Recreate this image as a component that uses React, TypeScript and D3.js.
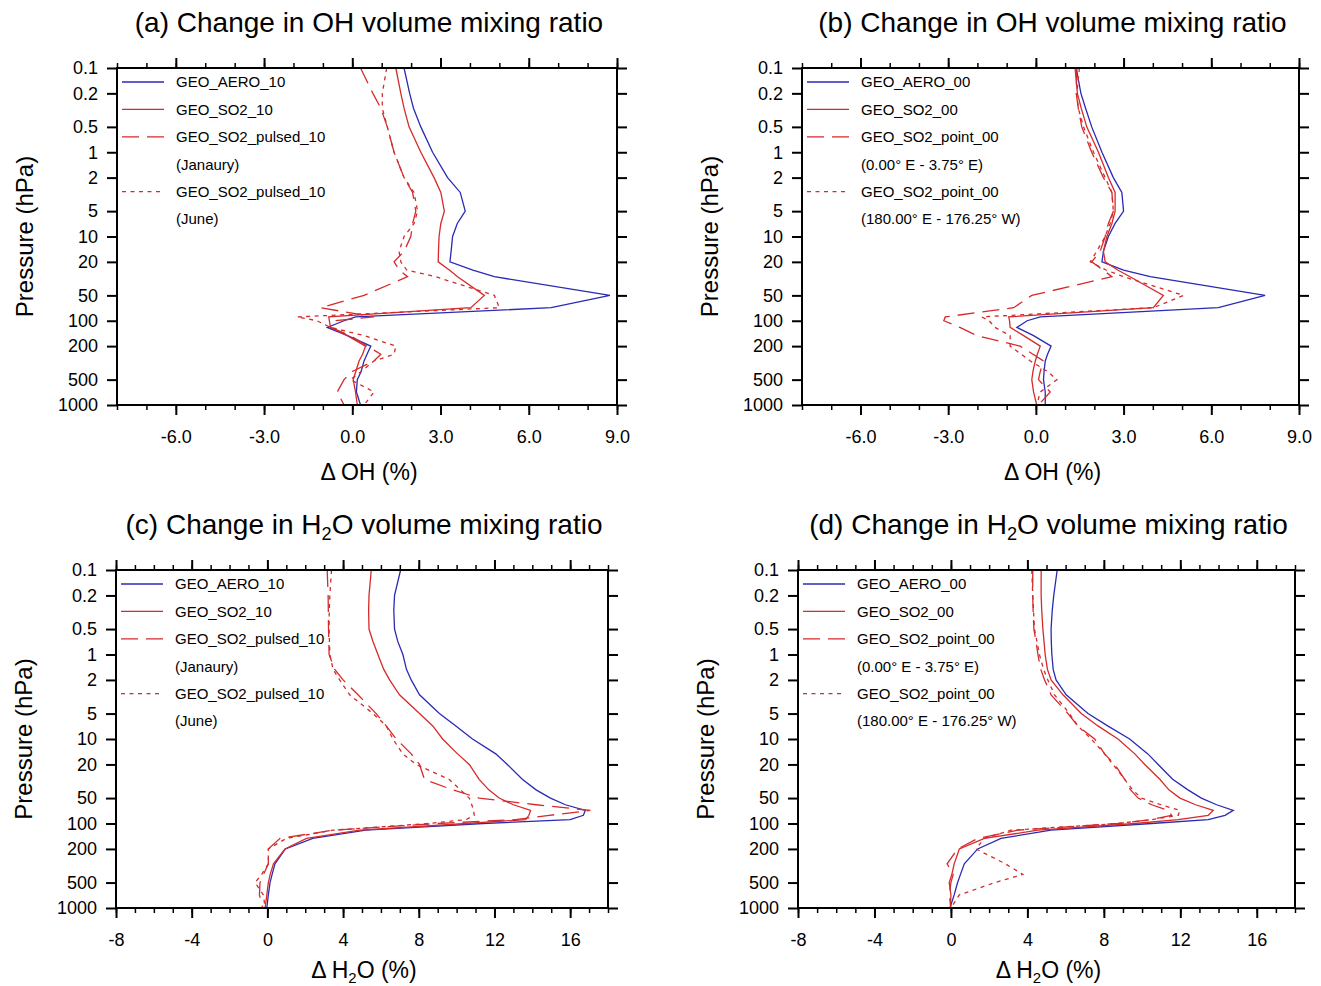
import { useEffect, useRef } from "react";
import * as d3 from "d3";

// pressure levels (hPa) the profiles were read at
const OH_LEVELS = [0.1, 0.2, 0.3, 0.5, 1, 2, 3, 5, 7, 10, 15, 20, 25, 30, 50, 70, 90, 100, 120, 150, 200, 250, 300, 400, 500, 700, 1000];
const H2O_LEVELS = [0.1, 0.2, 0.3, 0.5, 0.7, 1, 1.5, 2, 3, 5, 7, 10, 15, 20, 30, 40, 50, 60, 70, 80, 90, 100, 120, 150, 200, 300, 400, 500, 700, 1000];

const PRESSURE_TICKS = [0.1, 0.2, 0.5, 1, 2, 5, 10, 20, 50, 100, 200, 500, 1000];
const OH_TICKS = [-6, -3, 0, 3, 6, 9];
const OH_MINOR = d3.range(-8, 10, 1);
const H2O_TICKS = [-8, -4, 0, 4, 8, 12, 16];
const H2O_MINOR = d3.range(-8, 19, 1);

// (a) change in OH (%)
const OH_AERO_10 = [1.76, 1.95, 2.08, 2.33, 2.73, 3.24, 3.67, 3.84, 3.57, 3.41, 3.36, 3.32, 4.1, 4.83, 8.76, 6.76, 0.11, -0.28, -0.85, -0.16, 0.63, 0.5, 0.4, 0.3, 0.17, 0.14, 0.28];
const OH_SO2_10 = [1.48, 1.65, 1.76, 1.93, 2.33, 2.78, 3.01, 3.13, 3.01, 2.95, 2.93, 2.92, 3.3, 3.58, 4.49, 4.03, -0.8, -0.78, -0.74, -0.17, 0.45, 0.35, 0.23, 0.12, 0.03, 0.11, 0.17];
const OH_PULSED_JAN = [0.28, 0.7, 0.97, 1.19, 1.42, 1.76, 2.05, 2.16, 2.05, 1.99, 1.76, 1.42, 1.6, 1.88, 0.4, -1.08, 0.74, -0.6, -0.74, -0.06, 0.51, 0.97, 0.74, 0.0, -0.28, -0.51, -0.28];
const OH_PULSED_JUN = [1.17, 1.02, 1.02, 1.19, 1.42, 1.76, 2.1, 2.22, 2.1, 1.76, 1.59, 1.65, 1.85, 2.83, 4.83, 5.0, -1.88, -1.2, -0.74, 0.4, 1.48, 1.42, 0.74, 0.3, -0.06, 0.74, 0.4];

// (b) change in OH (%)
const OH_AERO_00 = [1.38, 1.54, 1.7, 1.91, 2.26, 2.65, 2.94, 3.0, 2.71, 2.48, 2.31, 2.26, 3.0, 3.91, 7.84, 6.24, 0.15, -0.3, -0.65, -0.08, 0.52, 0.4, 0.32, 0.28, 0.26, 0.32, 0.32];
const OH_SO2_00 = [1.34, 1.42, 1.55, 1.74, 2.14, 2.48, 2.71, 2.71, 2.6, 2.43, 2.31, 2.37, 2.8, 3.22, 4.36, 4.02, -0.93, -0.9, -0.88, -0.42, 0.15, 0.05, -0.02, -0.1, -0.14, -0.08, 0.03];
const OH_POINT_0E = [1.4, 1.38, 1.45, 1.57, 1.91, 2.31, 2.6, 2.65, 2.48, 2.37, 2.2, 1.91, 2.3, 2.6, -0.14, -0.76, -3.1, -3.15, -2.6, -2.02, -0.54, -0.1, 0.26, 0.15, 0.09, 0.49, 0.09];
const OH_POINT_180E = [1.49, 1.4, 1.45, 1.63, 1.97, 2.37, 2.6, 2.65, 2.54, 2.37, 2.08, 1.86, 2.4, 3.0, 5.05, 4.02, -1.85, -1.6, -1.4, -0.88, -0.88, -0.5, -0.19, 0.4, 0.72, 0.15, 0.03];

// (c) change in H2O (%)
const H2O_AERO_10 = [7.04, 6.72, 6.68, 6.72, 6.89, 7.16, 7.35, 7.6, 8.04, 9.09, 9.96, 10.84, 12.07, 12.68, 13.47, 14.2, 14.96, 15.75, 16.8, 16.7, 16.0, 11.4, 5.2, 2.4, 0.95, 0.4, 0.25, 0.14, 0.05, -0.03];
const H2O_SO2_10 = [5.49, 5.37, 5.35, 5.37, 5.58, 5.84, 6.15, 6.46, 6.98, 8.04, 8.74, 9.26, 10.05, 10.67, 11.19, 11.7, 12.25, 13.0, 13.91, 13.82, 13.65, 10.5, 4.88, 2.07, 0.93, 0.32, 0.15, 0.05, -0.03, -0.12];
const H2O_PULSED_JAN = [3.16, 3.21, 3.22, 3.23, 3.25, 3.26, 3.56, 4.0, 4.79, 5.75, 6.28, 6.81, 7.6, 8.04, 8.3, 9.79, 11.19, 14.2, 17.07, 14.9, 13.1, 9.0, 3.47, 0.67, 0.05, 0.05, -0.2, -0.39, -0.42, -0.25];
const H2O_PULSED_JUN = [3.39, 3.3, 3.27, 3.26, 3.28, 3.3, 3.47, 3.82, 4.35, 5.58, 6.28, 6.63, 7.16, 7.86, 9.6, 10.2, 10.67, 10.8, 10.9, 10.93, 10.5, 8.5, 3.47, 1.0, 0.05, 0.05, -0.3, -0.65, -0.21, -0.12];

// (d) change in H2O (%)
const H2O_AERO_00 = [5.56, 5.38, 5.3, 5.24, 5.25, 5.28, 5.35, 5.5, 6.03, 7.17, 8.2, 9.35, 10.3, 10.84, 11.6, 12.4, 13.1, 13.9, 14.77, 14.34, 13.46, 10.49, 5.24, 2.62, 1.4, 0.7, 0.5, 0.35, 0.17, -0.05];
const H2O_SO2_00 = [4.72, 4.72, 4.75, 4.81, 4.87, 4.93, 5.05, 5.24, 5.86, 6.82, 7.69, 8.74, 9.62, 10.14, 10.93, 11.4, 11.98, 12.8, 13.72, 13.46, 11.89, 9.62, 4.55, 1.75, 0.44, 0.17, 0.05, -0.09, 0, -0.03];
const H2O_POINT_0E = [4.28, 4.28, 4.3, 4.34, 4.45, 4.55, 4.7, 4.9, 5.24, 6.12, 6.64, 7.52, 8.04, 8.57, 9.09, 9.4, 9.79, 10.5, 11.36, 11.54, 10.49, 8.74, 3.5, 1.4, 0.35, -0.2, 0.12, 0.0, -0.09, 0];
const H2O_POINT_180E = [4.23, 4.28, 4.32, 4.37, 4.5, 4.63, 4.85, 5.07, 5.42, 6.2, 6.64, 7.34, 8.04, 8.48, 9.09, 9.5, 9.96, 11.0, 11.98, 11.89, 10.49, 8.74, 3.15, 1.75, 1.31, 2.85, 3.76, 2.3, 0.44, 0];

const LEGEND_10 = ["GEO_AERO_10", "GEO_SO2_10", "GEO_SO2_pulsed_10", "(Janaury)", "GEO_SO2_pulsed_10", "(June)"];
const LEGEND_00 = ["GEO_AERO_00", "GEO_SO2_00", "GEO_SO2_point_00", "(0.00\u00b0 E - 3.75\u00b0 E)", "GEO_SO2_point_00", "(180.00\u00b0 E - 176.25\u00b0 W)"];

const BLUE = "#2a2ab4";
const RED = "#d62a2a";
const FONT = "'Liberation Sans', Arial, Helvetica, sans-serif";
// line style per legend row (null = text continuation, no line)
const ROW_STYLE = [
  { color: BLUE, dash: null },
  { color: RED, dash: null },
  { color: RED, dash: "17,8" },
  null,
  { color: RED, dash: "4,4.5" },
  null,
];

// plain hyphen minus, as in the original figure
const hyphen = (f) => (d) => f(d).replace("\u2212", "-");

const panels = [
  {
    key: "a", left: 117, top: 68, width: 500, height: 337, sub: false, labelGap: 75,
    xDomain: [-8, 9], major: OH_TICKS, minor: OH_MINOR, fmt: hyphen(d3.format(".1f")),
    levels: OH_LEVELS, series: [OH_AERO_10, OH_SO2_10, OH_PULSED_JAN, OH_PULSED_JUN], legend: LEGEND_10,
  },
  {
    key: "b", left: 802, top: 68, width: 497, height: 337, sub: false, labelGap: 75,
    xDomain: [-8, 9], major: OH_TICKS, minor: OH_MINOR, fmt: hyphen(d3.format(".1f")),
    levels: OH_LEVELS, series: [OH_AERO_00, OH_SO2_00, OH_POINT_0E, OH_POINT_180E], legend: LEGEND_00,
  },
  {
    key: "c", left: 116, top: 570, width: 492, height: 338, sub: true, labelGap: 70,
    xDomain: [-8, 18], major: H2O_TICKS, minor: H2O_MINOR, fmt: hyphen(d3.format("d")),
    levels: H2O_LEVELS, series: [H2O_AERO_10, H2O_SO2_10, H2O_PULSED_JAN, H2O_PULSED_JUN], legend: LEGEND_10,
  },
  {
    key: "d", left: 798, top: 570, width: 497, height: 338, sub: true, labelGap: 70,
    xDomain: [-8, 18], major: H2O_TICKS, minor: H2O_MINOR, fmt: hyphen(d3.format("d")),
    levels: H2O_LEVELS, series: [H2O_AERO_00, H2O_SO2_00, H2O_POINT_0E, H2O_POINT_180E], legend: LEGEND_00,
  },
];

const SERIES_STYLE = [ROW_STYLE[0], ROW_STYLE[1], ROW_STYLE[2], ROW_STYLE[4]];

// writes "OH" or "H2O" (subscript 2) between a prefix and a suffix
const writeSpecies = (text, prefix, sub, suffix, size) => {
  if (!sub) {
    text.text(prefix + "OH" + suffix);
    return;
  }
  text.append("tspan").text(prefix + "H");
  text.append("tspan").attr("font-size", size * 0.65).attr("dy", size * 0.22).text("2");
  text.append("tspan").attr("dy", -size * 0.22).text("O" + suffix);
};

const Panel = ({ cfg }) => {
  const ref = useRef(null);

  useEffect(() => {
    const g = d3.select(ref.current);
    g.selectAll("*").remove();
    const { width, height } = cfg;

    const x = d3.scaleLinear().domain(cfg.xDomain).range([0, width]);
    const y = d3.scaleLog().domain([0.1, 1000]).range([0, height]);

    // profiles
    const line = d3.line()
      .x((d) => x(d[1]))
      .y((d) => y(d[0]));

    cfg.series.forEach((vals, i) => {
      const st = SERIES_STYLE[i];
      g.append("path")
        .datum(cfg.levels.map((p, j) => [p, vals[j]]))
        .attr("fill", "none")
        .attr("stroke", st.color)
        .attr("stroke-width", 1.3)
        .attr("stroke-dasharray", st.dash)
        .attr("d", line);
    });

    // axes, NCL style with outward ticks on every side
    const styleAxis = (sel, w) => {
      sel.select(".domain").remove();
      sel.selectAll(".tick line").attr("stroke", "#000").attr("stroke-width", w);
      sel.selectAll(".tick text").attr("fill", "#000").attr("font-size", 18).attr("font-family", FONT);
      sel.attr("font-family", FONT).attr("font-size", 18);
    };

    g.append("g").attr("transform", `translate(0,${height})`)
      .call(d3.axisBottom(x).tickValues(cfg.minor).tickSize(5).tickSizeOuter(0).tickFormat(() => ""))
      .call((s) => styleAxis(s, 1.5));
    g.append("g").attr("transform", `translate(0,${height})`)
      .call(d3.axisBottom(x).tickValues(cfg.major).tickSize(10).tickSizeOuter(0).tickPadding(15).tickFormat(cfg.fmt))
      .call((s) => styleAxis(s, 2));
    g.append("g")
      .call(d3.axisTop(x).tickValues(cfg.minor).tickSize(5).tickSizeOuter(0).tickFormat(() => ""))
      .call((s) => styleAxis(s, 1.5));
    g.append("g")
      .call(d3.axisTop(x).tickValues(cfg.major).tickSize(10).tickSizeOuter(0).tickFormat(() => ""))
      .call((s) => styleAxis(s, 2));
    g.append("g")
      .call(d3.axisLeft(y).tickValues(PRESSURE_TICKS).tickSize(10).tickSizeOuter(0).tickPadding(9).tickFormat((d) => String(d)))
      .call((s) => styleAxis(s, 2));
    g.append("g").attr("transform", `translate(${width},0)`)
      .call(d3.axisRight(y).tickValues(PRESSURE_TICKS).tickSize(10).tickSizeOuter(0).tickFormat(() => ""))
      .call((s) => styleAxis(s, 2));

    g.append("rect")
      .attr("width", width)
      .attr("height", height)
      .attr("fill", "none")
      .attr("stroke", "#000")
      .attr("stroke-width", 2);

    // legend
    cfg.legend.forEach((label, i) => {
      const ly = 14 + i * 27.4;
      const st = ROW_STYLE[i];
      if (st) {
        g.append("line")
          .attr("x1", 5).attr("x2", 47)
          .attr("y1", ly).attr("y2", ly)
          .attr("stroke", st.color)
          .attr("stroke-width", 1.3)
          .attr("stroke-dasharray", st.dash);
      }
      g.append("text")
        .attr("x", 59).attr("y", ly).attr("dy", "0.36em")
        .attr("font-family", FONT).attr("font-size", 15)
        .text(label);
    });

    // titles and labels
    const title = g.append("text")
      .attr("x", width / 2 + 2).attr("y", -36)
      .attr("text-anchor", "middle")
      .attr("font-family", FONT).attr("font-size", 28);
    writeSpecies(title, `(${cfg.key}) Change in `, cfg.sub, " volume mixing ratio", 28);

    const xl = g.append("text")
      .attr("x", width / 2 + 2).attr("y", height + cfg.labelGap)
      .attr("text-anchor", "middle")
      .attr("font-family", FONT).attr("font-size", 23);
    writeSpecies(xl, "\u0394 ", cfg.sub, " (%)", 23);

    g.append("text")
      .attr("transform", `translate(-84,${height / 2}) rotate(-90)`)
      .attr("text-anchor", "middle")
      .attr("font-family", FONT).attr("font-size", 24)
      .text("Pressure (hPa)");
  }, [cfg]);

  return <g ref={ref} transform={`translate(${cfg.left},${cfg.top})`} />;
};

export default function App() {
  return (
    <svg
      width={1321}
      height={986}
      style={{ position: "absolute", left: 0, top: 0, background: "#fff" }}
    >
      {panels.map((p) => (
        <Panel key={p.key} cfg={p} />
      ))}
    </svg>
  );
}
